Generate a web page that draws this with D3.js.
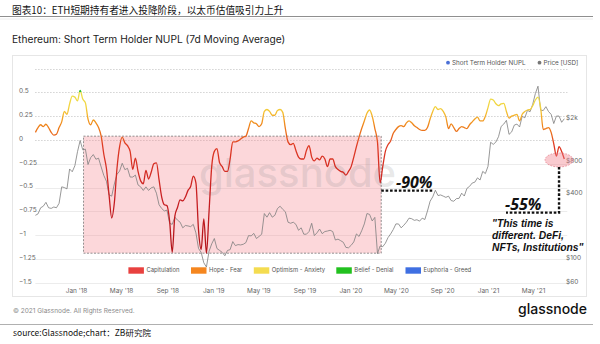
<!DOCTYPE html>
<html>
<head>
<meta charset="utf-8">
<script src="https://cdn.jsdelivr.net/npm/d3@7"></script>
<style>
  body { margin: 0; background: #fff; }
  svg text { font-family: Inter, "Noto Sans", sans-serif; }
</style>
</head>
<body>
<svg id="chart" width="600" height="344"></svg>
<script>
// weekly readings, one per Friday from 15 Sep 2017 to 23 Jul 2021
const nuplValues = [
  0.08, 0.13, 0.16, 0.14, 0.165, 0.13, 0.08, 0.05, 0.06, 0.13, 0.19, 0.30, 0.27, 0.38, 0.46, 0.45,
  0.41, 0.52, 0.43, 0.39, 0.22, 0.16, 0.21, 0.18, 0.13, 0.04, -0.15, -0.30, -0.58, -0.82, -0.66, -0.30,
  -0.07, 0.03, -0.03, -0.06, -0.12, -0.31, -0.19, -0.33, -0.43, -0.46, -0.32, -0.41, -0.34, -0.25, -0.24, -0.42,
  -0.60, -0.68, -0.69, -0.85, -1.18, -0.80, -0.71, -0.63, -0.64, -0.60, -0.53, -0.49, -0.38, -0.45, -0.95, -1.15,
  -0.83, -1.19, -0.75, -0.28, -0.12, -0.09, -0.24, -0.28, -0.33, -0.33, -0.20, -0.02, -0.02, -0.01, 0.01, 0.03,
  0.04, 0.12, 0.20, 0.18, 0.17, 0.14, 0.17, 0.30, 0.32, 0.30, 0.26, 0.26, 0.31, 0.32, 0.29, 0.12,
  -0.02, -0.05, -0.035, -0.11, -0.18, -0.20, -0.20, -0.11, -0.06, -0.18, -0.22, -0.19, -0.21, -0.17, -0.20, -0.28,
  -0.20, -0.20, -0.28, -0.31, -0.33, -0.34, -0.37, -0.33, -0.28, -0.18, -0.07, 0.03, 0.12, 0.20, 0.28, 0.315,
  0.25, 0.12, -0.02, -0.45, -0.28, -0.12, -0.05, -0.01, 0.07, 0.11, 0.14, 0.15, 0.14, 0.18, 0.20, 0.18,
  0.15, 0.13, 0.11, 0.10, 0.10, 0.13, 0.22, 0.30, 0.35, 0.32, 0.33, 0.30, 0.24, 0.12, 0.17, 0.13,
  0.09, 0.12, 0.14, 0.13, 0.12, 0.16, 0.19, 0.22, 0.24, 0.20, 0.20, 0.25, 0.34, 0.43, 0.42, 0.38,
  0.36, 0.38, 0.385, 0.30, 0.23, 0.25, 0.26, 0.27, 0.20, 0.27, 0.30, 0.315, 0.32, 0.36, 0.42, 0.45,
  0.34, 0.11, 0.12, 0.13, 0.08, -0.04, -0.17, -0.07, -0.12, -0.20
];

const priceValues = [
  255, 263, 300, 310, 337, 300, 296, 305, 300, 330, 470, 463, 450, 690, 650, 740,
  1000, 1270, 1040, 1055, 760, 880, 940, 850, 870, 720, 600, 530, 395, 385, 500, 615,
  660, 780, 680, 700, 580, 580, 605, 490, 470, 435, 470, 435, 460, 470, 410, 320,
  295, 280, 285, 215, 210, 245, 230, 220, 195, 205, 203, 200, 210, 175, 125, 115,
  92, 84, 118, 138,
  155, 125, 120, 115, 107, 120, 122, 145, 133, 136, 135, 137, 142, 165, 164, 173,
  155, 162, 170, 265, 245, 270, 245, 255, 295, 310, 290, 275, 220, 215, 220, 210,
  185, 195, 170, 170, 180, 215, 165, 175, 190, 172, 180, 182, 185, 180, 150, 153,
  148, 143, 128, 127,
  134, 144, 171, 162, 183, 212, 265, 260, 226, 244, 112, 132, 130, 140, 158, 171,
  188, 212, 212, 195, 206, 220, 240, 237, 229, 232, 225, 240, 233, 280, 345, 379,
  437, 390, 395, 385, 375, 385, 350, 345, 365, 367, 410, 386, 455, 475, 510, 520,
  570, 545, 655, 625,
  730, 1225, 1170, 1230, 1380, 1720, 1810, 1960, 1450, 1530, 1770, 1810, 1700, 2140, 2070, 2430,
  2360, 2770, 3480, 4080, 2440, 2420, 2630, 2370, 2230, 1830, 2150, 2150, 1880, 2030
];

const nuplTicks = [0.5, 0.25, 0, -0.25, -0.5, -0.75, -1, -1.25, -1.5];
const nuplGrid = [0.75, 0.5, 0.25, 0, -0.25, -0.5, -0.75, -1, -1.25, -1.5];
const priceTicks = [2000, 800, 400, 100, 60];
const priceTickLabels = ['$2k', '$800', '$400', '$100', '$60'];
const zoneNames = ['Capitulation', 'Hope - Fear', 'Optimism - Anxiety', 'Belief - Denial', 'Euphoria - Greed'];
const zoneColors = ['#e8413f', '#f5861f', '#f4dc50', '#22c11f', '#3f6fe2'];
const zoneLegendX = [128.4, 191, 253.8, 336.3, 405.5];

const weeks = d3.timeFriday.range(new Date(2017, 8, 15), new Date(2021, 6, 24));
const nuplData = nuplValues.map((v, i) => ({ date: weeks[i], v }));
const priceData = priceValues.map((v, i) => ({ date: weeks[i], v }));

const svg = d3.select('#chart');
const plot = { left: 35.4, right: 564.3, top: 68.6, bottom: 282.7 };

const x = d3.scaleTime().domain([weeks[0], weeks[weeks.length - 1]]).range([plot.left, plot.right]);
const y = d3.scaleLinear().domain([-1.5, 0.75]).range([plot.bottom, plot.top]);
const yPrice = d3.scaleLog().domain([60, 5956]).range([plot.bottom, plot.top]);

svg.append('rect').attr('width', 600).attr('height', 344).attr('fill', '#fff');

// report header
svg.append('text')
  .attr('x', 12).attr('y', 13.5)
  .style('font-family', '"Noto Sans CJK SC", sans-serif')
  .style('font-size', '9.7px').attr('fill', '#111')
  .text('图表10：ETH短期持有者进入投降阶段，以太币估值吸引力上升');
svg.append('line').attr('x1', 0).attr('x2', 593).attr('y1', 16.5).attr('y2', 16.5)
  .attr('stroke', '#8f8f8f').attr('stroke-width', 1);
svg.append('line').attr('x1', 0).attr('x2', 593).attr('y1', 19).attr('y2', 19)
  .attr('stroke', '#ececec').attr('stroke-width', 1);

svg.append('text')
  .attr('x', 12).attr('y', 42.5)
  .style('font-size', '10.2px').attr('fill', '#222')
  .text('Ethereum: Short Term Holder NUPL (7d Moving Average)');

// chart card
svg.append('rect').attr('x', 12.5).attr('y', 55.5).attr('width', 574).attr('height', 241)
  .attr('fill', 'none').attr('stroke', '#e6e6e6');

// grid
svg.append('g').selectAll('line').data(nuplGrid).join('line')
  .attr('x1', plot.left).attr('x2', plot.right + 3)
  .attr('y1', d => Math.round(y(d)) + 0.5).attr('y2', d => Math.round(y(d)) + 0.5)
  .attr('stroke', d => d >= 0 ? '#bdbdbd' : '#ececec')
  .attr('stroke-dasharray', d => d >= 0 ? '1,2' : null);

// capitulation box (Jan 2018 - Mar 2020)
const boxStart = new Date(2018, 0, 21), boxEnd = new Date(2020, 2, 23);
svg.append('rect')
  .attr('x', x(boxStart)).attr('y', y(0.04))
  .attr('width', x(boxEnd) - x(boxStart)).attr('height', y(-1.19) - y(0.04))
  .attr('fill', '#f47c86').attr('fill-opacity', 0.3)
  .attr('stroke', '#777').attr('stroke-width', 0.8).attr('stroke-dasharray', '2,1.5');

// watermark
svg.append('text')
  .attr('x', 199).attr('y', 187)
  .style('font-size', '40px').style('font-weight', 500)
  .attr('fill', '#8a8a8a').attr('fill-opacity', 0.2)
  .text('glassnode');

// axes labels
const axisFont = g => g.selectAll('text').style('font-size', '6.5px').attr('fill', '#666');

svg.append('g')
  .attr('transform', `translate(19,0)`)
  .call(d3.axisRight(y).tickValues(nuplTicks).tickSize(0).tickPadding(0).tickFormat(d3.format('~g')))
  .call(g => g.select('.domain').remove())
  .call(axisFont)
  .call(g => g.selectAll('text').attr('dy', '0.05em').attr('text-anchor', 'start'));

svg.append('g')
  .attr('transform', `translate(566,0)`)
  .call(d3.axisRight(yPrice).tickValues(priceTicks).tickSize(0).tickPadding(0)
    .tickFormat((d, i) => priceTickLabels[i]))
  .call(g => g.select('.domain').remove())
  .call(axisFont)
  .call(g => g.selectAll('text').attr('dy', '0.05em'));

svg.append('g')
  .attr('transform', `translate(0,288.3)`)
  .call(d3.axisBottom(x).ticks(d3.timeMonth.every(4)).tickSize(0).tickPadding(0)
    .tickFormat(d3.timeFormat("%b '%y")))
  .call(g => g.select('.domain').remove())
  .call(axisFont);

// gradient for the NUPL line, by value
const gradStops = [
  [-1.5, '#a50f15'], [-0.6, '#c81e22'], [-0.05, '#df3a24'], [0.04, '#e8641f'],
  [0.16, '#ef861b'], [0.26, '#f4b42c'], [0.34, '#f2d23e'], [0.5, '#ece04a'],
  [0.5, '#2dbf2d'], [0.75, '#2dbf2d']
];
const defs = svg.append('defs');
defs.append('linearGradient')
  .attr('id', 'nuplGrad').attr('gradientUnits', 'userSpaceOnUse')
  .attr('x1', 0).attr('x2', 0).attr('y1', y(-1.5)).attr('y2', y(0.75))
  .selectAll('stop').data(gradStops).join('stop')
  .attr('offset', d => (d[0] + 1.5) / 2.25)
  .attr('stop-color', d => d[1]);

// price line
svg.append('path').datum(priceData)
  .attr('fill', 'none').attr('stroke', '#7d7d7d').attr('stroke-width', 0.8)
  .attr('d', d3.line().x(d => x(d.date)).y(d => yPrice(d.v)));

// NUPL line
svg.append('path').datum(nuplData)
  .attr('fill', 'none').attr('stroke', 'url(#nuplGrad)').attr('stroke-width', 1.3)
  .attr('stroke-linejoin', 'round')
  .attr('d', d3.line().curve(d3.curveMonotoneX).x(d => x(d.date)).y(d => y(d.v)));

// top legend
const topLegend = [
  { label: 'Short Term Holder NUPL', color: '#4a6fd6', x: 448 },
  { label: 'Price [USD]', color: '#777', x: 539.5 }
];
const tl = svg.append('g').selectAll('g').data(topLegend).join('g')
  .attr('transform', d => `translate(${d.x},62.7)`);
tl.append('circle').attr('r', 1.9).attr('fill', d => d.color);
tl.append('text').attr('x', 4).attr('dy', '0.33em')
  .style('font-size', '6.3px').attr('fill', '#555').text(d => d.label);

// bottom zone legend
const zl = svg.append('g').selectAll('g').data(zoneNames).join('g')
  .attr('transform', (d, i) => `translate(${zoneLegendX[i]},270.5)`);
zl.append('rect').attr('x', 0).attr('y', -3.2).attr('width', 15.5).attr('height', 6.4)
  .attr('fill', (d, i) => zoneColors[i]);
zl.append('text').attr('x', 18).attr('dy', '0.33em')
  .style('font-size', '5.9px').attr('fill', '#555').text(d => d);

// annotations
const annoFont = sel => sel.style('font-family', '"Open Sans", Lato, sans-serif')
  .style('font-style', 'italic').style('font-weight', 700).attr('fill', '#111');

svg.append('line')
  .attr('x1', x(boxEnd)).attr('x2', 433).attr('y1', y(-0.532)).attr('y2', y(-0.532))
  .attr('stroke', '#111').attr('stroke-width', 2.4).attr('stroke-dasharray', '2.6,1.8');
svg.append('text').attr('x', 396).attr('y', 188.3).style('font-size', '16px').call(annoFont).text('-90%');

const ellDate = new Date(2021, 6, 9);
svg.append('ellipse')
  .attr('cx', x(ellDate)).attr('cy', y(-0.21)).attr('rx', 14).attr('ry', 7)
  .attr('fill', '#f07a88').attr('fill-opacity', 0.4)
  .attr('stroke', '#e0707e').attr('stroke-width', 0.7).attr('stroke-dasharray', '1.5,1.5');

svg.append('path')
  .attr('d', `M${x(ellDate)},${y(-0.21) + 7}V${y(-0.764)}H506`)
  .attr('fill', 'none').attr('stroke', '#111').attr('stroke-width', 2.4).attr('stroke-dasharray', '2.6,1.8');
svg.append('text').attr('x', 505).attr('y', 210).style('font-size', '16px').call(annoFont).text('-55%');

const quote = ['"This time is', 'different. DeFi,', 'NFTs, Institutions"'];
svg.append('g').selectAll('text').data(quote).join('text')
  .attr('x', 492).attr('y', (d, i) => 227 + i * 12)
  .style('font-size', '10.3px').call(annoFont)
  .style('font-family', '"Liberation Sans", Arial, sans-serif')
  .text(d => d);

// card footer
svg.append('text').attr('x', 13).attr('y', 313)
  .style('font-size', '6.5px').attr('fill', '#8a8a8a')
  .text('© 2021 Glassnode. All Rights Reserved.');
svg.append('text').attr('x', 587).attr('y', 314).attr('text-anchor', 'end')
  .style('font-size', '14px').style('font-weight', 500).attr('fill', '#111')
  .text('glassnode');

svg.append('line').attr('x1', 0).attr('x2', 593).attr('y1', 324.5).attr('y2', 324.5)
  .attr('stroke', '#b0b0b0');
svg.append('text').attr('x', 13).attr('y', 336)
  .style('font-family', '"Noto Sans CJK SC", sans-serif')
  .style('font-size', '8.5px').attr('fill', '#111')
  .text('source:Glassnode;chart：ZB研究院');
</script>
</body>
</html>
